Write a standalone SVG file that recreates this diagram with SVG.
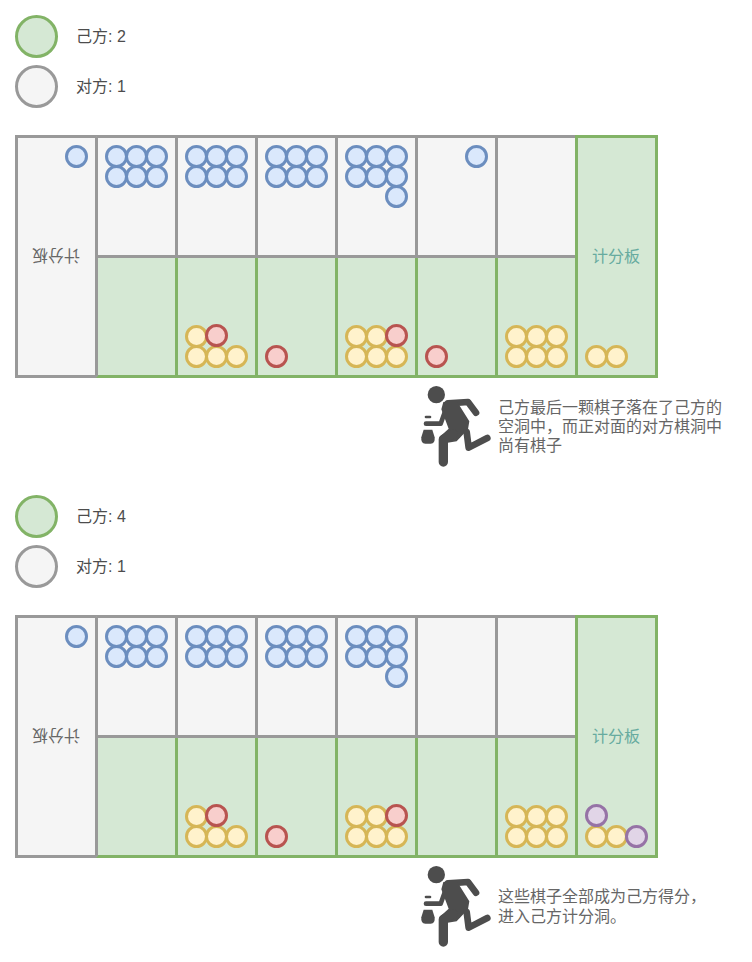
<svg xmlns="http://www.w3.org/2000/svg" width="752" height="962" viewBox="0 0 752 962">
<style>
text{font-family:"Liberation Sans","Noto Sans CJK SC",sans-serif;font-size:16px;fill:#4d4d4d}
.g{fill:#d5e8d4;stroke:#82b366;stroke-width:3}
.w{fill:#f5f5f5;stroke:#999;stroke-width:3}
.gl{fill:none;stroke:#82b366;stroke-width:3}
.wl{fill:none;stroke:#999;stroke-width:3}
.b{fill:#dae8fc;stroke:#6c8ebf;stroke-width:3}
.y{fill:#fff2cc;stroke:#d6b656;stroke-width:3}
.r{fill:#f8cecc;stroke:#b85450;stroke-width:3}
.p{fill:#e1d5e7;stroke:#9673a6;stroke-width:3}
text.t{fill:#67ab9f;text-anchor:middle}
text.f{fill:#666;text-anchor:middle}
text.n{fill:#666}
.lim{fill:none;stroke:#4d4d4d;stroke-linecap:round;stroke-linejoin:round}
</style>
<defs>
<g id="runner" transform="scale(0.3333)">
<circle cx="55" cy="38" r="26" fill="#4d4d4d"/>
<path class="lim" stroke-width="20" d="M90 64L150 60L174 92"/>
<path class="lim" stroke-width="14" d="M24 125L68 125L84 80"/>
<path fill="#4d4d4d" d="M76 60L114 54L154 118L150 142L116 178L80 184L64 166L92 140L70 82Z"/>
<path class="lim" stroke-width="28" d="M105 155L76 172L76 240"/>
<path class="lim" stroke-width="20" d="M146 150L152 197L208 168"/>
<path class="lim" stroke-width="8" d="M24 105L36 105"/>
<path fill="#4d4d4d" d="M17 143L43 143L50 166Q52 185 38 185L22 185Q8 185 10 166Z"/>
</g>
<g id="board">
<rect class="w" x="16.500" y="136.500" width="80" height="240"/>
<text class="f" transform="rotate(180 56 256)" x="56" y="262">计分板</text>
<rect x="96.500" y="136.500" width="480" height="120" fill="#f5f5f5"/>
<rect x="96.500" y="256.500" width="480" height="120" fill="#d5e8d4"/>
<path class="wl" d="M96.500 136.500H576.500M176.500 136.500V256.500M256.500 136.500V256.500M336.500 136.500V256.500M416.500 136.500V256.500M496.500 136.500V256.500"/>
<path class="gl" d="M96.500 376.500H576.500M176.500 256.500V376.500M256.500 256.500V376.500M336.500 256.500V376.500M416.500 256.500V376.500M496.500 256.500V376.500"/>
<path class="wl" d="M96.500 256.500H576.500M96.500 136.500V376.500"/>
<rect class="g" x="576.500" y="136.500" width="80" height="240"/>
<text class="t" x="616" y="262">计分板</text>
<g class="b">
<circle cx="76.500" cy="156.500" r="10"/>
<circle cx="116.500" cy="156.500" r="10"/><circle cx="136.500" cy="156.500" r="10"/><circle cx="156.500" cy="156.500" r="10"/>
<circle cx="116.500" cy="176.500" r="10"/><circle cx="136.500" cy="176.500" r="10"/><circle cx="156.500" cy="176.500" r="10"/>
<circle cx="196.500" cy="156.500" r="10"/><circle cx="216.500" cy="156.500" r="10"/><circle cx="236.500" cy="156.500" r="10"/>
<circle cx="196.500" cy="176.500" r="10"/><circle cx="216.500" cy="176.500" r="10"/><circle cx="236.500" cy="176.500" r="10"/>
<circle cx="276.500" cy="156.500" r="10"/><circle cx="296.500" cy="156.500" r="10"/><circle cx="316.500" cy="156.500" r="10"/>
<circle cx="276.500" cy="176.500" r="10"/><circle cx="296.500" cy="176.500" r="10"/><circle cx="316.500" cy="176.500" r="10"/>
<circle cx="356.500" cy="156.500" r="10"/><circle cx="376.500" cy="156.500" r="10"/><circle cx="396.500" cy="156.500" r="10"/>
<circle cx="356.500" cy="176.500" r="10"/><circle cx="376.500" cy="176.500" r="10"/><circle cx="396.500" cy="176.500" r="10"/>
<circle cx="396.500" cy="196.500" r="10"/>
</g>
<g class="y">
<circle cx="196.500" cy="336.500" r="10"/>
<circle cx="196.500" cy="356.500" r="10"/><circle cx="216.500" cy="356.500" r="10"/><circle cx="236.500" cy="356.500" r="10"/>
<circle cx="356.500" cy="336.500" r="10"/><circle cx="376.500" cy="336.500" r="10"/>
<circle cx="356.500" cy="356.500" r="10"/><circle cx="376.500" cy="356.500" r="10"/><circle cx="396.500" cy="356.500" r="10"/>
<circle cx="516.500" cy="336.500" r="10"/><circle cx="536.500" cy="336.500" r="10"/><circle cx="556.500" cy="336.500" r="10"/>
<circle cx="516.500" cy="356.500" r="10"/><circle cx="536.500" cy="356.500" r="10"/><circle cx="556.500" cy="356.500" r="10"/>
<circle cx="596.500" cy="356.500" r="10"/><circle cx="616.500" cy="356.500" r="10"/>
</g>
<g class="r">
<circle cx="216.500" cy="335.500" r="10"/>
<circle cx="276.500" cy="356.500" r="10"/>
<circle cx="396.500" cy="335.500" r="10"/>
</g>
</g>
</defs>
<g id="score1">
<circle class="g" cx="36.500" cy="36.500" r="20"/><text x="76" y="42">己方: 2</text>
<circle class="w" cx="36.500" cy="86.500" r="20"/><text x="76" y="92">对方: 1</text>
</g>
<g id="board1">
<use href="#board"/>
<circle class="b" cx="476.500" cy="156.500" r="10"/>
<circle class="r" cx="436.500" cy="356.500" r="10"/>
</g>
<g id="note1">
<use href="#runner" transform="translate(418 382)"/>
<text class="n" x="498" y="413">己方最后一颗棋子落在了己方的</text>
<text class="n" x="498" y="432">空洞中，而正对面的对方棋洞中</text>
<text class="n" x="498" y="451">尚有棋子</text>
</g>
<g id="score2">
<circle class="g" cx="36.500" cy="516.500" r="20"/><text x="76" y="522">己方: 4</text>
<circle class="w" cx="36.500" cy="566.500" r="20"/><text x="76" y="572">对方: 1</text>
</g>
<g id="board2">
<use href="#board" transform="translate(0 480)"/>
<circle class="p" cx="596.500" cy="815.500" r="10"/>
<circle class="p" cx="636.500" cy="836.500" r="10"/>
</g>
<g id="note2">
<use href="#runner" transform="translate(418 862)"/>
<text class="n" x="498" y="902">这些棋子全部成为己方得分，</text>
<text class="n" x="498" y="922">进入己方计分洞。</text>
</g>
</svg>
